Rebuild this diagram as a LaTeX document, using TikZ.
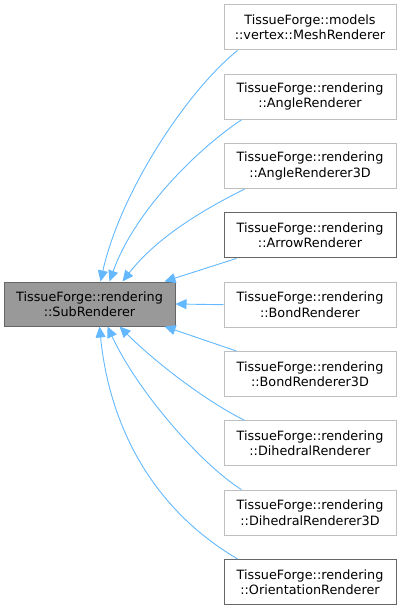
\documentclass[tikz,border=0pt]{standalone}
\usepackage{fontspec}
\setmainfont{DejaVu Sans}
\usetikzlibrary{positioning,calc,arrows.meta}
\definecolor{edgeblue}{HTML}{63B8FF}
\definecolor{boxlight}{HTML}{BFBFBF}
\definecolor{boxdark}{HTML}{666666}
\definecolor{basefill}{HTML}{999999}
\tikzset{
	leaf/.style={draw=boxlight,fill=white,line width=1pt,minimum width=172pt,minimum height=45pt,inner sep=0pt,align=center,font=\fontsize{12.8}{15.3}\selectfont},
	leafdark/.style={leaf,draw=boxdark},
	base/.style={leaf,draw=boxdark,fill=basefill,minimum width=171pt,minimum height=44pt},
	edge/.style={draw=edgeblue,line width=0.9pt,-{Triangle[length=11pt,width=10pt]}}
}
\begin{document}
\begin{tikzpicture}[x=1pt,y=-1pt]
		\useasboundingbox (0,0) rectangle (401,610);
		\node[base] (sub) at (89.5,304) {TissueForge::rendering\\::SubRenderer};
		\node[leaf] (mesh) at (310,27.5) {TissueForge::models\\::vertex::MeshRenderer};
		\node[leaf,below=23.3pt of mesh] (angle) {TissueForge::rendering\\::AngleRenderer};
		\node[leaf,below=23.3pt of angle] (angle3d) {TissueForge::rendering\\::AngleRenderer3D};
		\node[leafdark,below=23.3pt of angle3d] (arrow) {TissueForge::rendering\\::ArrowRenderer};
		\node[leaf,below=23.3pt of arrow] (bond) {TissueForge::rendering\\::BondRenderer};
		\node[leaf,below=23.3pt of bond] (bond3d) {TissueForge::rendering\\::BondRenderer3D};
		\node[leaf,below=23.3pt of bond3d] (dihedral) {TissueForge::rendering\\::DihedralRenderer};
		\node[leaf,below=23.3pt of dihedral] (dihedral3d) {TissueForge::rendering\\::DihedralRenderer3D};
		\node[leafdark,below=23.3pt of dihedral3d] (orient) {TissueForge::rendering\\::OrientationRenderer};
		% upper edges
		\draw[edge] ($(mesh.south west)+(14,0)$) .. controls +(-50,40) and +(20,-90) .. ($(sub.north west)+(97,0)$);
		\draw[edge] ($(angle.south west)+(18,0)$) .. controls +(-45,30) and +(25,-70) .. ($(sub.north west)+(106,0)$);
		\draw[edge] ($(angle3d.south west)+(21,0)$) .. controls +(-40,20) and +(35,-45) .. ($(sub.north west)+(119,0)$);
		\draw[edge] ($(arrow.south west)+(13,0)$) -- ($(sub.north west)+(161,0)$);
		\draw[edge] (bond.west) -- (sub.east);
		% lower edges
		\draw[edge] ($(bond3d.north west)+(13,0)$) -- ($(sub.south west)+(161,0)$);
		\draw[edge] ($(dihedral.north west)+(21,0)$) .. controls +(-40,-20) and +(35,35) .. ($(sub.south west)+(116,0)$);
		\draw[edge] ($(dihedral3d.north west)+(18,0)$) .. controls +(-40,-25) and +(30,65) .. ($(sub.south west)+(104,0)$);
		\draw[edge] ($(orient.north west)+(14,0)$) .. controls +(-85,-50) and +(10,100) .. ($(sub.south west)+(96,0)$);
	\end{tikzpicture}
\end{document}
